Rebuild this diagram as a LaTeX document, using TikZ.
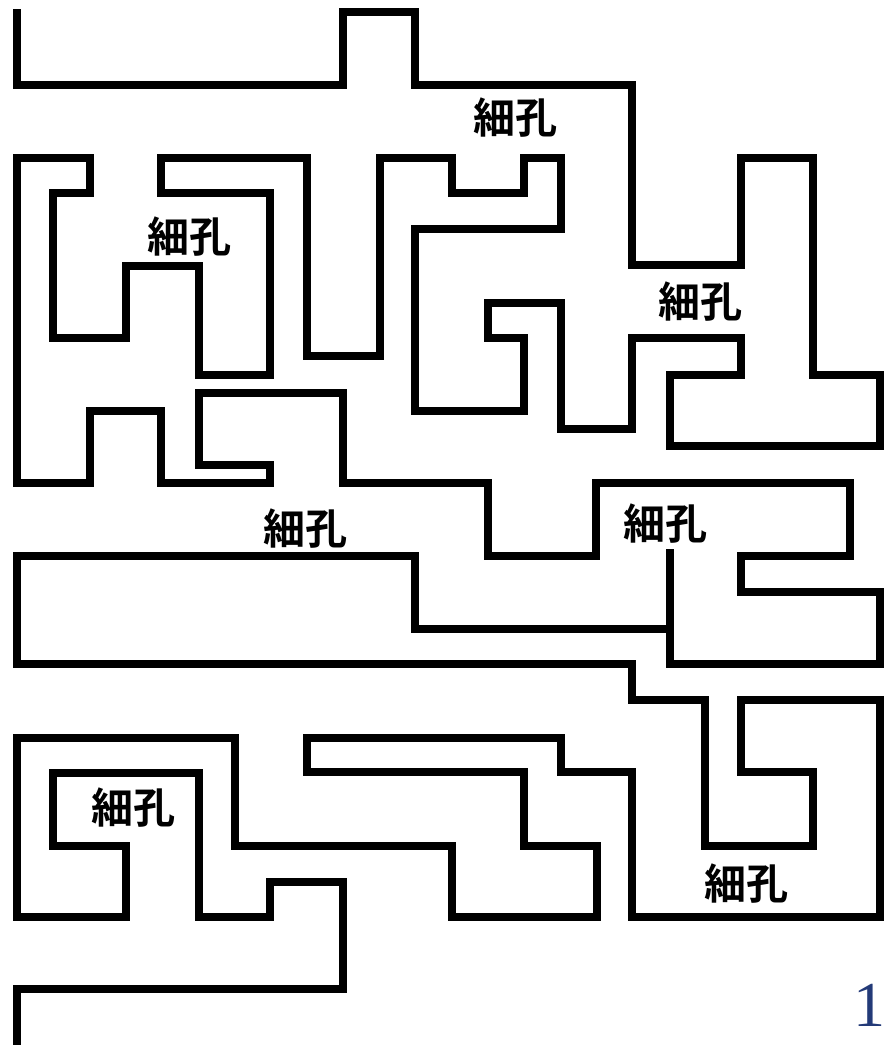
\documentclass[tikz,border=0pt]{standalone}
\usepackage{fontspec}
\newfontfamily\cjkfont{Noto Sans CJK JP}[BoldFont={* Bold}]
\setmainfont{Liberation Serif}
\definecolor{pagenum}{RGB}{35,58,120}
\tikzset{
  wall/.style={line width=7.5pt, line join=miter, line cap=rect, black},
  pore/.style={font=\cjkfont\bfseries\fontsize{42}{42}\selectfont, inner sep=0pt},
  pagenumber/.style={font=\fontsize{64}{64}\selectfont, text=pagenum, inner sep=0pt}
}
\begin{document}
\begin{tikzpicture}[x=1pt, y=-1pt]
\useasboundingbox (0,0) rectangle (886,1045);
% upper maze wall
\draw[wall] (17,13) -- (17,85) -- (343,85) -- (343,12) -- (415,12) -- (415,85)
  -- (632,85) -- (632,265) -- (741,265) -- (741,158) -- (813,158) -- (813,375)
  -- (880,375) -- (880,446) -- (670,446) -- (670,375) -- (741,375) -- (741,338)
  -- (632,338) -- (632,429) -- (561,429) -- (561,303) -- (488,303) -- (488,338)
  -- (524,338) -- (524,411) -- (415,411) -- (415,229) -- (561,229) -- (561,158)
  -- (524,158) -- (524,193) -- (452,193) -- (452,158) -- (380,158) -- (380,356)
  -- (307,356) -- (307,158) -- (161,158) -- (161,193) -- (270,193) -- (270,375)
  -- (199,375) -- (199,266) -- (126,266) -- (126,338) -- (53,338) -- (53,193)
  -- (90,193) -- (90,158) -- (17,158) -- (17,483) -- (90,483) -- (90,411)
  -- (161,411) -- (161,483) -- (270,483) -- (270,465) -- (199,465) -- (199,393)
  -- (343,393) -- (343,483) -- (488,483) -- (488,556) -- (596,556) -- (596,483)
  -- (850,483) -- (850,556) -- (741,556) -- (741,592) -- (880,592) -- (880,664)
  -- (670,664) -- (670,553);
% lower maze wall
\draw[wall] (670,629) -- (415,629) -- (415,556) -- (17,556) -- (17,664)
  -- (632,664) -- (632,700) -- (705,700) -- (705,846) -- (813,846) -- (813,772)
  -- (741,772) -- (741,700) -- (880,700) -- (880,917) -- (632,917) -- (632,772)
  -- (561,772) -- (561,738) -- (307,738) -- (307,772) -- (524,772) -- (524,846)
  -- (597,846) -- (597,917) -- (452,917) -- (452,846) -- (235,846) -- (235,738)
  -- (17,738) -- (17,917) -- (126,917) -- (126,846) -- (53,846) -- (53,773)
  -- (199,773) -- (199,917) -- (270,917) -- (270,882) -- (343,882) -- (343,989)
  -- (17,989) -- (17,1050);
% labels
\node[pore] (p1) at (515,118) {細孔};
\node[pore] (p2) at (189,237) {細孔};
\node[pore] (p3) at (700,302) {細孔};
\node[pore] (p4) at (665,524) {細孔};
\node[pore] (p5) at (305,529) {細孔};
\node[pore] (p6) at (133,808) {細孔};
\node[pore] (p7) at (746,884) {細孔};
\node[pagenumber, anchor=east] (num) at (885.5,1005) {1};
\end{tikzpicture}
\end{document}
